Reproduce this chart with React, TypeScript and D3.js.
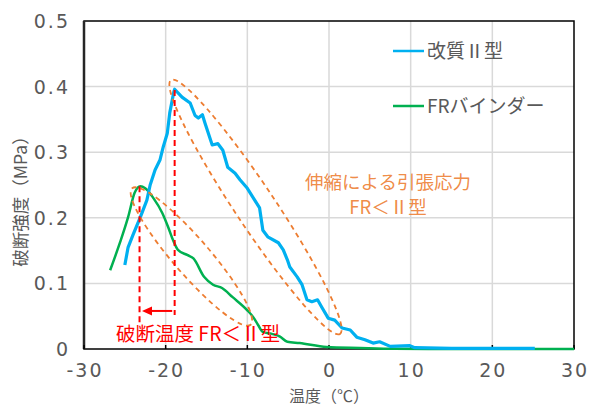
import React from 'react';
import * as d3 from 'd3';

// ---- data ----
const blueSeries: [number, number][] = [
  [-25.0, 0.128], [-24.6, 0.155], [-24.0, 0.174], [-23.1, 0.201], [-22.3, 0.227],
  [-21.9, 0.25], [-21.3, 0.273], [-20.7, 0.288], [-20.3, 0.308], [-19.8, 0.329],
  [-19.5, 0.36], [-19.0, 0.392], [-18.9, 0.396], [-18.0, 0.384], [-17.0, 0.375],
  [-16.4, 0.356], [-16.0, 0.352], [-15.5, 0.357], [-15.2, 0.345], [-14.3, 0.311],
  [-13.6, 0.313], [-13.0, 0.303], [-12.4, 0.277], [-11.5, 0.268], [-10.9, 0.258],
  [-10.0, 0.245], [-9.1, 0.227], [-8.5, 0.215], [-8.1, 0.181], [-7.5, 0.171],
  [-6.2, 0.162], [-5.6, 0.151], [-5.1, 0.136], [-4.8, 0.125], [-3.9, 0.11],
  [-3.3, 0.098], [-2.7, 0.075], [-2.1, 0.072], [-1.4, 0.075], [-0.9, 0.064],
  [-0.1, 0.047], [0.7, 0.044], [1.6, 0.032], [2.6, 0.029], [3.4, 0.018],
  [4.4, 0.014], [5.4, 0.009], [6.2, 0.011], [7.5, 0.004], [9.9, 0.005],
  [10.5, 0.002], [15.0, 0.001], [25.2, 0.001],
];
const greenSeries: [number, number][] = [
  [-26.8, 0.12], [-25.6, 0.162], [-24.6, 0.201], [-23.8, 0.238], [-23.1, 0.248],
  [-22.5, 0.245], [-21.5, 0.23], [-20.4, 0.207], [-19.7, 0.186], [-19.1, 0.166],
  [-18.5, 0.151], [-17.3, 0.143], [-16.6, 0.138], [-15.3, 0.11], [-14.2, 0.098],
  [-13.1, 0.093], [-11.8, 0.079], [-10.0, 0.059], [-9.3, 0.049], [-8.7, 0.037],
  [-8.1, 0.026], [-7.0, 0.023], [-6.0, 0.019], [-5.1, 0.011], [-3.6, 0.009],
  [-0.3, 0.003], [3.8, 0.0015], [8.0, 0.0003], [15.0, 0], [30.0, 0],
];
const seriesNames = ['改質Ⅱ型', 'FRバインダー'];
const xTicks = [-30, -20, -10, 0, 10, 20, 30];
const yTicks = [0, 0.1, 0.2, 0.3, 0.4, 0.5];
const xTitle = '温度（℃）';
const yTitle = '破断強度（MPa）';
const noteTension = ['伸縮による引張応力', 'FR＜Ⅱ型'];
const noteBreak = '破断温度 FR＜Ⅱ型';
// break temperature markers: [x, yTop, yBottom]
const breakMarkers: [number, number, number][] = [
  [-23.2, 0.248, 0.04],
  [-18.9, 0.395, 0.052],
];
const arrowFromTo: [number, number, number] = [-19.2, -22.9, 0.058];
// ellipse annotations: end points (data coords)
const ellipseEnds: [[number, number], [number, number]][] = [
  [[-19.35, 0.41], [1.35, 0.023]],
  [[-24.1, 0.245], [-9.6, 0.037]],
];
const ellipseHalfWidths = [20, 18];

const W = 590, H = 408;
const M = { left: 84, right: 16, top: 21, bottom: 59 };

export default function App() {
  const x = d3.scaleLinear().domain([-30, 30]).range([M.left, W - M.right]);
  const y = d3.scaleLinear().domain([0, 0.5]).range([H - M.bottom, M.top]);
  const blueLine = d3.line<[number, number]>().x(d => x(d[0])).y(d => y(d[1])).curve(d3.curveLinear);
  const greenLine = d3.line<[number, number]>().x(d => x(d[0])).y(d => y(d[1])).curve(d3.curveMonotoneX);
  const cjk = '"Noto Sans CJK JP", "Noto Sans", sans-serif';
  const num = '"DejaVu Sans", sans-serif';
  const orange = '#ED7D31';
  const red = '#FF0000';
  const blue = '#00B0F0';
  const green = '#00B050';
  const gray = '#595959';

  return (
    <svg width={W} height={H} style={{ position: 'absolute', left: 0, top: 0 }}>
      <rect x={0} y={0} width={W} height={H} fill="#fff" />
      {/* grid */}
      {xTicks.slice(1, -1).map(t => (
        <line key={'gx' + t} x1={x(t)} x2={x(t)} y1={y(0.5)} y2={y(0)} stroke="#d9d9d9" strokeWidth={1.5} />
      ))}
      {yTicks.slice(1, -1).map(t => (
        <line key={'gy' + t} x1={x(-30)} x2={x(30)} y1={y(t)} y2={y(t)} stroke="#d9d9d9" strokeWidth={1.5} />
      ))}
      {/* frame */}
      <rect x={x(-30)} y={y(0.5)} width={x(30) - x(-30)} height={y(0) - y(0.5)} fill="none" stroke="#000" strokeWidth={1.5} />
      <line x1={x(-30)} x2={x(-30)} y1={y(0.5)} y2={y(0)} stroke="#262626" strokeWidth={2.5} />
      {xTicks.map(t => (
        <line key={'tx' + t} x1={x(t)} x2={x(t)} y1={y(0)} y2={y(0) - 4} stroke="#000" strokeWidth={1.5} />
      ))}
      {/* tick labels */}
      {xTicks.map(t => (
        <text key={'lx' + t} x={x(t) + 1} y={377} textAnchor="middle" fontFamily={num} fontSize={19} letterSpacing={2} fill={gray}>{String(t)}</text>
      ))}
      {yTicks.map(t => (
        <text key={'ly' + t} x={70} y={y(t) + 7} textAnchor="end" fontFamily={num} fontSize={19} letterSpacing={2} fill={gray}>{String(t)}</text>
      ))}
      {/* axis titles */}
      <text x={x(0)} y={402} textAnchor="middle" fontFamily={cjk} fontSize={16} fill={gray}>{xTitle}</text>
      <text transform={`translate(27,197) rotate(-90)`} textAnchor="middle" fontFamily={cjk} fontSize={17.5} fill={gray}>{yTitle}</text>
      {/* series */}
      <path d={greenLine(greenSeries) || ''} fill="none" stroke={green} strokeWidth={2.5} />
      <path d={blueLine(blueSeries) || ''} fill="none" stroke={blue} strokeWidth={3.2} strokeLinejoin="round" />
      {/* ellipses */}
      {ellipseEnds.map((e, i) => {
        const x1 = x(e[0][0]), y1 = y(e[0][1]), x2 = x(e[1][0]), y2 = y(e[1][1]);
        const cx = (x1 + x2) / 2, cy = (y1 + y2) / 2;
        const len = Math.hypot(x2 - x1, y2 - y1) / 2;
        const ang = (Math.atan2(y2 - y1, x2 - x1) * 180) / Math.PI;
        return (
          <ellipse key={'el' + i} cx={cx} cy={cy} rx={len} ry={ellipseHalfWidths[i]} transform={`rotate(${ang} ${cx} ${cy})`}
            fill="none" stroke={orange} strokeWidth={1.8} strokeDasharray="5 4" />
        );
      })}
      {/* break markers */}
      {breakMarkers.map((b, i) => (
        <line key={'bm' + i} x1={x(b[0])} x2={x(b[0])} y1={y(b[1])} y2={y(b[2])} stroke={red} strokeWidth={2} strokeDasharray="6 4" />
      ))}
      <line x1={x(arrowFromTo[0])} x2={x(arrowFromTo[1]) + 8} y1={y(arrowFromTo[2])} y2={y(arrowFromTo[2])} stroke={red} strokeWidth={2} />
      <path d={`M${x(arrowFromTo[1])},${y(arrowFromTo[2])} l10,-4.5 l0,9 z`} fill={red} />
      <text x={116} y={341} fontFamily={cjk} fontSize={19.5} fill={red}>{noteBreak}</text>
      {/* orange note */}
      <text x={388} y={189} textAnchor="middle" fontFamily={cjk} fontSize={18.5} fill={orange} fillOpacity={0.9}>{noteTension[0]}</text>
      <text x={388} y={214} textAnchor="middle" fontFamily={cjk} fontSize={18.5} fill={orange} fillOpacity={0.9}>{noteTension[1]}</text>
      {/* legend */}
      {seriesNames.map((n, i) => (
        <g key={'lg' + i}>
          <line x1={393} x2={424} y1={51 + i * 55} y2={51 + i * 55} stroke={i === 0 ? blue : green} strokeWidth={2.5} />
          <text x={427} y={51 + i * 55 + 7} fontFamily={cjk} fontSize={19} fill={gray}>{n}</text>
        </g>
      ))}
    </svg>
  );
}
